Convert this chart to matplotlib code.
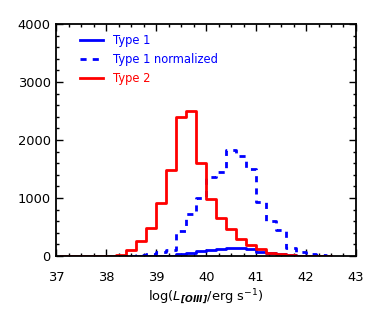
import numpy as np
import matplotlib.pyplot as plt
from matplotlib.ticker import MultipleLocator

# bin centres of log L[OIII]
red_centers = [37.1, 37.3, 37.5, 37.7, 37.9, 38.1, 38.3, 38.5, 38.7, 38.9,
               39.1, 39.3, 39.5, 39.7, 39.9, 40.1, 40.3, 40.5, 40.7, 40.9,
               41.1, 41.3, 41.5, 41.7, 41.9, 42.1, 42.3, 42.5]
type2 = [0, 0, 0, 0, 0, 3, 25, 100, 258, 485,
         914, 1485, 2390, 2500, 1603, 990, 662, 470, 286, 198,
         118, 58, 30, 15, 8, 4, 2, 1]

blue_centers = [38.5, 38.7, 38.9, 39.1, 39.3, 39.5, 39.7, 39.9, 40.1, 40.3,
                40.5, 40.7, 40.9, 41.1, 41.3, 41.5, 41.7, 41.9, 42.1, 42.3, 42.5]
type1 = [1, 2, 3, 5, 8, 35, 58, 80, 110, 115,
         146, 138, 120, 75, 48, 35, 11, 6, 2, 1, 0]
type1_norm = [5, 15, 30, 62, 100, 431, 731, 995, 1370, 1440,
              1822, 1724, 1500, 931, 598, 443, 135, 69, 29, 12, 5]

fig = plt.figure(figsize=(3.74, 3.21), dpi=100)
ax = fig.add_axes([0.1508, 0.2025, 0.801, 0.7227])

lw = 2.0
ax.step(blue_centers, type1, where="mid", color="#0000ff", linewidth=lw, label="Type 1")
ax.step(blue_centers, type1_norm, where="mid", color="#0000ff", linewidth=lw,
        linestyle=(0, (2.2, 2.2)), label="Type 1 normalized")
ax.step(red_centers, type2, where="mid", color="#ff0000", linewidth=lw, label="Type 2")

ax.set_xlim(37, 43)
ax.set_ylim(0, 4000)
ax.xaxis.set_major_locator(MultipleLocator(1))
ax.xaxis.set_minor_locator(MultipleLocator(0.25))
ax.yaxis.set_major_locator(MultipleLocator(1000))
ax.yaxis.set_minor_locator(MultipleLocator(200))
ax.tick_params(which="both", direction="in", top=True, right=True, width=1.0)
ax.tick_params(which="major", length=4.8)
ax.tick_params(which="minor", length=2.4)
ax.tick_params(axis="x", which="major", pad=11, labelsize=9.4)
ax.tick_params(axis="y", which="major", pad=4, labelsize=9.4)
for sp in ax.spines.values():
    sp.set_linewidth(1.3)

ax.set_xlabel(r"log($L_{\mathbfit{[OIII]}}$/erg s$^{-1}$)", fontsize=9.4, labelpad=2)

leg = ax.legend(loc="upper left", bbox_to_anchor=(0.078, 0.955), frameon=False,
                fontsize=8.3, handlelength=2.0, handletextpad=0.9,
                labelspacing=0.5, borderpad=0, borderaxespad=0)
for txt, line in zip(leg.get_texts(), leg.get_lines()):
    txt.set_color(line.get_color())

fig.savefig("out.png", dpi=100)
